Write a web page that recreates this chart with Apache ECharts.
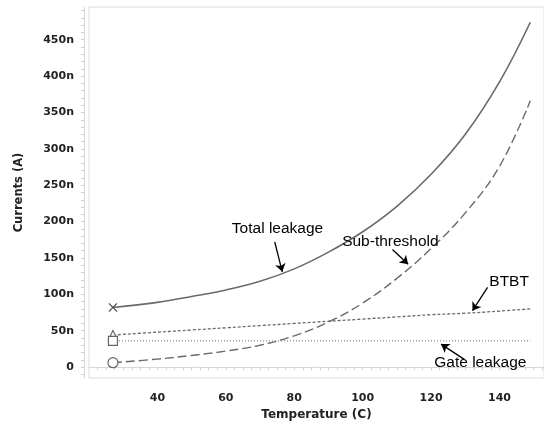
<!DOCTYPE html>
<html>
<head>
<meta charset="utf-8">
<script src="https://cdn.jsdelivr.net/npm/echarts@6/dist/echarts.min.js"></script>
<style>html,body{margin:0;padding:0;background:#fff}#c{width:544px;height:426px}</style>
</head>
<body>
<div id="c"></div>
<script>
// Temperature (C)
const temps = [27, 40, 50, 60, 70, 80, 90, 100, 110, 120, 130, 140, 149];
// Currents in nA
const totalLeakage = [82, 89, 97, 106, 118, 135, 158, 186, 221, 265, 320, 392, 474];
const subThreshold = [6, 11, 16, 22, 30, 43, 62, 88, 122, 163, 212, 276, 366];
const btbt = [44, 48, 51, 54, 57, 60, 63, 66, 69, 72, 74, 77, 80];
const gateLeakage = [36, 36, 36, 36, 36, 36, 36, 36, 36, 36, 36, 36, 36];
const yTickLabels = [0, 50, 100, 150, 200, 250, 300, 350, 400, 450];
const xTickLabels = [40, 60, 80, 100, 120, 140];

const AXFONT = 'DejaVu Sans, sans-serif';
const TXFONT = 'Liberation Sans, Arial, sans-serif';
const GRAY = '#6a6a6a';

function mk(xs, ys){ return xs.map((x,i)=>[x, ys[i]]); }
function withFirstMarker(arr, sym, size){
  const d = arr.map(p=>({value:p, symbol:'none'}));
  d[0] = {value: arr[0], symbol: sym, symbolSize: size};
  return d;
}
function note(text, tx, ty, ax1, ay1, ax2, ay2){
  return {
    markPoint: {silent:true, animation:false, data:[{coord:[tx,ty], symbol:'circle', symbolSize:0,
      label:{show:true, position:'inside', formatter:text, color:'#000', fontSize:15.5, fontFamily:TXFONT}}]},
    markLine: {silent:true, animation:false, symbol:['none','arrow'], symbolSize:8,
      label:{show:false}, lineStyle:{color:'#000', width:1.3, type:'solid'},
      data:[[{coord:[ax1,ay1]},{coord:[ax2,ay2]}]]}
  };
}
const yMinor = []; for (let v=-10; v<=490; v+=10) yMinor.push(v);
const xMinor = []; for (let v=22.5; v<=153; v+=2.5) xMinor.push(v);

const chart = echarts.init(document.getElementById('c'), null, {renderer:'canvas'});
chart.setOption({
  animation:false,
  backgroundColor:'#fff',
  grid:{left:89, right:0, top:7, bottom:48, show:true, borderColor:'#dcdcdc', borderWidth:1},
  xAxis:{type:'value', min:20, max:153, offset:7,
    name:'Temperature (C)', nameLocation:'middle', nameGap:23,
    nameTextStyle:{fontFamily:AXFONT, fontWeight:'bold', fontSize:12, color:'#222'},
    axisLine:{show:true, lineStyle:{color:'#d8d8d8'}},
    axisTick:{show:true, customValues:xMinor, length:3, inside:false, lineStyle:{color:'#cfcfcf'}},
    axisLabel:{customValues:xTickLabels, fontFamily:AXFONT, fontWeight:'bold', fontSize:11, color:'#222', margin:8},
    splitLine:{show:false}},
  yAxis:{type:'value', min:-15, max:495, offset:5,
    name:'Currents (A)', nameLocation:'middle', nameGap:59, nameRotate:90,
    nameTextStyle:{fontFamily:AXFONT, fontWeight:'bold', fontSize:11.5, color:'#222'},
    axisLine:{show:true, lineStyle:{color:'#d8d8d8'}},
    axisTick:{show:true, customValues:yMinor, length:3, lineStyle:{color:'#cfcfcf'}},
    axisLabel:{customValues:yTickLabels, formatter:v=> v===0?'0':v+'n',
      fontFamily:AXFONT, fontWeight:'bold', fontSize:11, color:'#222', margin:10},
    splitLine:{show:false}},
  series:[
    Object.assign({type:'line', name:'Total leakage', smooth:0.4, showSymbol:true,
      data: withFirstMarker(mk(temps,totalLeakage), 'path://M0,1L1,0L5,4L9,0L10,1L6,5L10,9L9,10L5,6L1,10L0,9L4,5Z', 9),
      itemStyle:{color:'#555'},
      lineStyle:{color:GRAY, width:1.6, type:'solid'}},
      note('Total leakage', 75.1, 190, 74.3, 172, 76.5, 131)),
    Object.assign({type:'line', name:'Sub-threshold', smooth:0.4, showSymbol:true,
      data: withFirstMarker(mk(temps,subThreshold), 'circle', 10),
      itemStyle:{color:'#fff', borderColor:'#666', borderWidth:1.2},
      lineStyle:{color:GRAY, width:1.4, type:[9,4]}},
      note('Sub-threshold', 108.1, 173, 108.7, 161.7, 113.3, 141.5)),
    Object.assign({type:'line', name:'BTBT', smooth:0.4, showSymbol:true,
      data: withFirstMarker(mk(temps,btbt), 'triangle', 9),
      itemStyle:{color:'#fff', borderColor:'#666', borderWidth:1.2},
      lineStyle:{color:GRAY, width:1.3, type:[3,2]}},
      note('BTBT', 142.8, 117, 136.5, 109.5, 132.1, 77.5)),
    Object.assign({type:'line', name:'Gate leakage', showSymbol:true,
      data: withFirstMarker(mk(temps,gateLeakage), 'rect', 9),
      itemStyle:{color:'#fff', borderColor:'#666', borderWidth:1.2},
      lineStyle:{color:'#888', width:1.3, type:[1,2]}},
      note('Gate leakage', 134.4, 5.5, 129.7, 10.6, 122.9, 31.6))
  ]
});
</script>
</body>
</html>
